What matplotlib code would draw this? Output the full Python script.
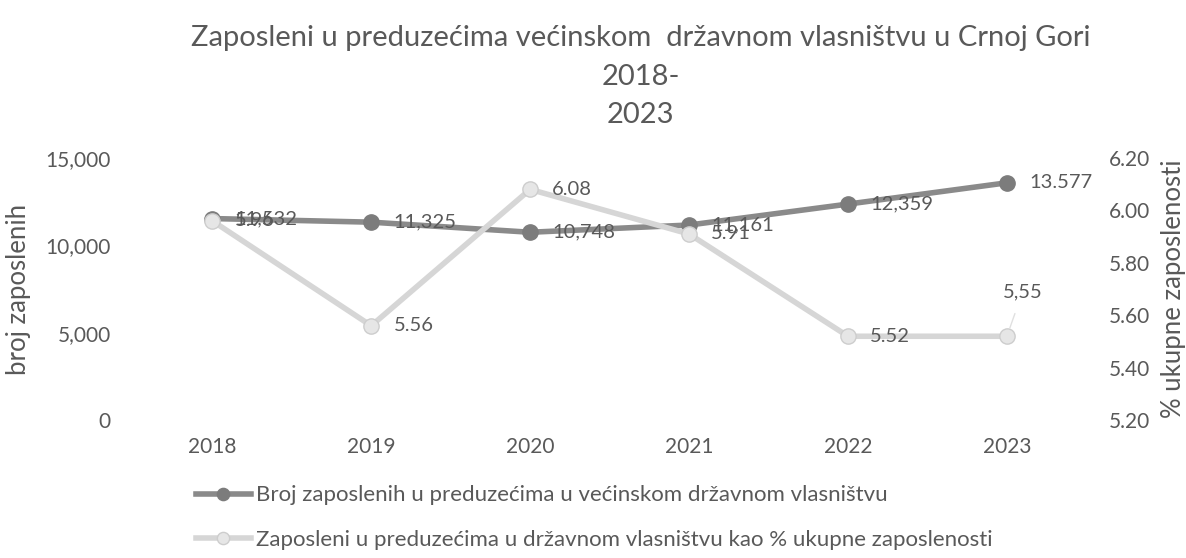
import matplotlib.pyplot as plt
import numpy as np

plt.rcParams['font.family'] = ['Lato', 'DejaVu Sans']

godine = ['2018', '2019', '2020', '2021', '2022', '2023']
broj_zaposlenih = [11532, 11325, 10748, 11161, 12359, 13577]
broj_oznake = ['11,532', '11,325', '10,748', '11,161', '12,359', '13.577']
procenat = [5.96, 5.56, 6.08, 5.91, 5.52, 5.52]
procenat_oznake = ['5.96', '5.56', '6.08', '5.91', '5.52', '5,55']

naslov = 'Zaposleni u preduzećima većinskom  državnom vlasništvu u Crnoj Gori\n2018-\n2023'
serija1 = 'Broj zaposlenih u preduzećima u većinskom državnom vlasništvu'
serija2 = 'Zaposleni u preduzećima u državnom vlasništvu kao % ukupne zaposlenosti'

siva = '#595959'
tamna = '#8a8a8a'
svijetla = '#d6d6d6'

fig = plt.figure(figsize=(11.86, 5.58), dpi=100)
ax = fig.add_axes([0.112, 0.247, 0.804, 0.470])
ax2 = ax.twinx()

x = np.arange(len(godine))
l1, = ax.plot(x, broj_zaposlenih, color=tamna, lw=4, marker='o', ms=11,
              mfc='#7c7c7c', mec='#7c7c7c', zorder=3)
l2, = ax2.plot(x, procenat, color=svijetla, lw=4, marker='o', ms=11,
               mfc='#e6e6e6', mec='#cdcdcd', zorder=2)

ax.set_ylim(0, 15000)
ax2.set_ylim(5.2, 6.2)
ax.set_xlim(-0.5, len(godine) - 0.5)
ax.set_yticks([0, 5000, 10000, 15000])
ax.set_yticklabels(['0', '5,000', '10,000', '15,000'])
ax2.set_yticks(np.arange(5.2, 6.21, 0.2))
ax2.set_yticklabels([f'{v:.2f}' for v in np.arange(5.2, 6.21, 0.2)])
ax.set_xticks(x)
ax.set_xticklabels(godine)

for a in (ax, ax2):
    for s in a.spines.values():
        s.set_visible(False)
    a.tick_params(length=0, labelsize=15, colors=siva, pad=16)
ax.tick_params(axis='x', pad=12)

ax.set_ylabel('broj zaposlenih', fontsize=18.5, color=siva, labelpad=10)
ax2.set_ylabel('% ukupne zaposlenosti', fontsize=18.5, color=siva, labelpad=8)

# oznake podataka
for i in range(len(godine)):
    ax.annotate(broj_oznake[i], (x[i], broj_zaposlenih[i]), xytext=(16, 0),
                textcoords='offset points', va='center', ha='left',
                fontsize=14.5, color=siva, zorder=5)
    if i == len(godine) - 1:
        ax2.annotate(procenat_oznake[i], (x[i], procenat[i]), xytext=(-3, 32),
                     textcoords='offset points', va='center', ha='left',
                     fontsize=14.5, color=siva,
                     arrowprops=dict(arrowstyle='-', color='#e0e0e0', lw=1,
                                     shrinkA=8, shrinkB=6))
    else:
        ax2.annotate(procenat_oznake[i], (x[i], procenat[i]), xytext=(16, 0),
                     textcoords='offset points', va='center', ha='left',
                     fontsize=14.5, color=siva, zorder=5)

fig.text(0.54, 0.955, naslov, ha='center', va='top', fontsize=21,
         color=siva, linespacing=1.6)

fig.legend([l1, l2], [serija1, serija2], loc='upper left',
           bbox_to_anchor=(0.165, 0.13), frameon=False, fontsize=16,
           labelcolor=siva, handlelength=2.5, handletextpad=0.2,
           labelspacing=1.1, markerscale=0.8, borderpad=0, borderaxespad=0)

fig.savefig('out.png', dpi=100)
